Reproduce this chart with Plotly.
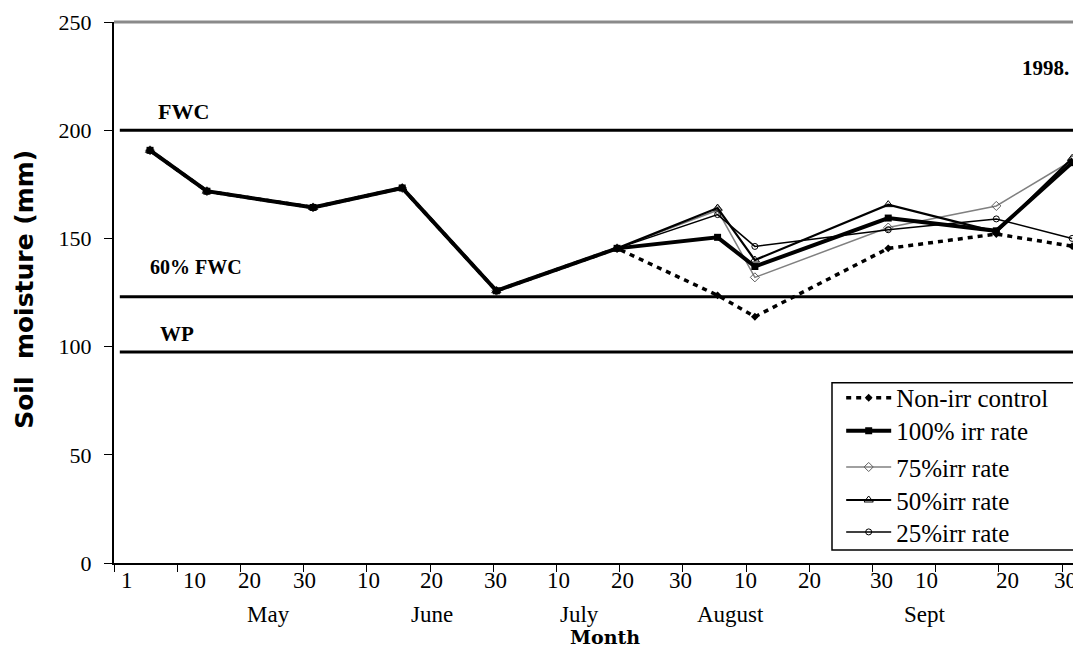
import plotly.graph_objects as go

# ---- data (x = position on a 10-day tick scale, May 1 = 0) ----
days = [5.7, 14.7, 31.5, 45.6, 60.5, 79.6, 95.5, 101.4, 122.5, 139.6, 151.6]
non_irr = [190.7, 171.8, 164.3, 173.3, 125.8, 145.4, 123.7, 113.8, 145.4, 152.0, 146.4]
irr100 = [190.7, 171.8, 164.3, 173.3, 125.8, 145.4, 150.5, 137.0, 159.4, 153.5, 185.0]
irr75 = [190.7, 171.8, 164.3, 173.3, 125.8, 145.4, 163.0, 132.0, 155.0, 165.0, 186.0]
irr50 = [190.7, 171.8, 164.3, 173.3, 125.8, 145.4, 164.0, 140.0, 165.6, 153.0, 187.0]
irr25 = [190.7, 171.8, 164.3, 173.3, 125.8, 145.4, 161.0, 146.3, 154.0, 159.0, 150.0]

FWC = 200
FWC60 = 123
WP = 97.5

tick_vals = [0, 10, 20, 30, 40, 50, 60, 70, 80, 90, 100, 110, 120, 130, 140, 150]
tick_text = ["1", "10", "20", "30", "10", "20", "30", "10", "20", "30",
             "10", "20", "30", "10", "20", "30"]
tick_label_pos = [2.1, 12.8, 21.4, 30.1, 40.3, 50.3, 60.3, 70.4, 80.5, 89.6,
                  99.9, 110.0, 121.5, 128.5, 141.3, 150.6]
months = ["May", "June", "July", "August", "Sept"]
month_pos = [24.4, 50.3, 73.7, 97.6, 128.3]

SERIF = "Liberation Serif"

fig = go.Figure()

fig.add_trace(go.Scatter(
    x=days, y=non_irr, name="Non-irr control", mode="lines+markers",
    line=dict(color="black", width=3.5, dash="5px,5px"),
    marker=dict(symbol="diamond", size=6, color="black"), legend="legend"))
fig.add_trace(go.Scatter(
    x=days, y=irr75, name="75%irr rate", mode="lines+markers",
    line=dict(color="#808080", width=1.5),
    marker=dict(symbol="diamond-open", size=7, color="#606060"), legend="legend3"))
fig.add_trace(go.Scatter(
    x=days, y=irr50, name="50%irr rate", mode="lines+markers",
    line=dict(color="black", width=2.2),
    marker=dict(symbol="triangle-up-open", size=8, color="black"), legend="legend4"))
fig.add_trace(go.Scatter(
    x=days, y=irr25, name="25%irr rate", mode="lines+markers",
    line=dict(color="black", width=1.5),
    marker=dict(symbol="circle-open", size=6, color="black"), legend="legend5"))
fig.add_trace(go.Scatter(
    x=days, y=irr100, name="100% irr rate", mode="lines+markers",
    line=dict(color="black", width=4),
    marker=dict(symbol="square", size=7, color="black"), legend="legend2"))

for lvl in (FWC, FWC60, WP):
    fig.add_hline(y=lvl, line=dict(color="black", width=3), x0=0.006, x1=1)

# top frame line
fig.add_shape(type="line", xref="paper", yref="paper", x0=0, x1=1, y0=1, y1=1,
              line=dict(color="#8a8a8a", width=3))

# legend box
fig.add_shape(type="rect", xref="paper", yref="paper", x0=0.7425, x1=0.997,
              y0=0.024, y1=0.333, line=dict(color="black", width=1.5),
              fillcolor="white", layer="above")

ann = [
    dict(text="<b>FWC</b>", x=0.043, y=0.835, xanchor="left", size=22),
    dict(text="<b>60% FWC</b>", x=0.035, y=0.548, xanchor="left", size=20),
    dict(text="<b>WP</b>", x=0.045, y=0.423, xanchor="left", size=21),
    dict(text="<b>1998.</b>", x=0.99, y=0.915, xanchor="right", size=21),
]
for a in ann:
    size = a.pop("size")
    fig.add_annotation(xref="paper", yref="paper", showarrow=False, yanchor="middle",
                       font=dict(family=SERIF, size=size, color="black"), **a)

for t, p in zip(tick_text, tick_label_pos):
    fig.add_annotation(text=t, x=p, xref="x", y=-0.033, yref="paper", showarrow=False,
                       yanchor="middle", font=dict(family=SERIF, size=23, color="black"))

for m, p in zip(months, month_pos):
    fig.add_annotation(text=m, x=p, xref="x", y=-0.096, yref="paper", showarrow=False,
                       font=dict(family=SERIF, size=23, color="black"), yanchor="middle")

fig.add_annotation(text="<b>Month</b>", x=77.7, xref="x", y=-0.1375, yref="paper",
                   showarrow=False, yanchor="middle",
                   font=dict(family="DejaVu Serif", size=19, color="black"))
fig.add_annotation(text="<b>Soil  moisture (mm)</b>", x=-0.092, xref="paper", y=0.505,
                   yref="paper", showarrow=False, textangle=-90, xanchor="center",
                   font=dict(family="DejaVu Sans", size=25, color="black"))

leg_common = dict(x=0.752, xanchor="left", yanchor="middle", bgcolor="rgba(0,0,0,0)",
                  font=dict(family=SERIF, size=25, color="black"), itemwidth=45,
                  borderwidth=0)
rows = [0.305, 0.244, 0.177, 0.116, 0.057]

fig.update_layout(
    width=1073, height=644,
    margin=dict(l=106, r=0, t=14, b=89),
    plot_bgcolor="white", paper_bgcolor="white",
    showlegend=True,
    legend=dict(y=rows[0], **leg_common),
    legend2=dict(y=rows[1], **leg_common),
    legend3=dict(y=rows[2], **leg_common),
    legend4=dict(y=rows[3], **leg_common),
    legend5=dict(y=rows[4], **leg_common),
    xaxis=dict(range=[0, 153], tickvals=tick_vals, showticklabels=False,
               showline=True, linecolor="black", linewidth=2, ticks="outside",
               ticklen=7, tickcolor="black", showgrid=False, zeroline=False),
    yaxis=dict(range=[0, 250], tickvals=[0, 50, 100, 150, 200, 250],
               showline=True, linecolor="black", linewidth=2, ticks="outside",
               ticklen=8, tickcolor="black", showgrid=False, zeroline=False,
               ticklabelstandoff=8,
               tickfont=dict(family=SERIF, size=22, color="black")),
)

fig.write_html("out.html")
